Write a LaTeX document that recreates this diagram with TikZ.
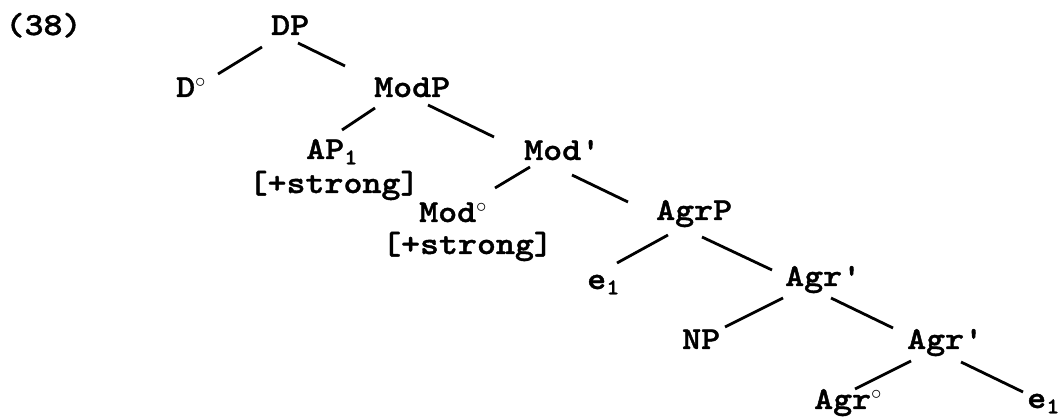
\documentclass[tikz,border=0pt]{standalone}
\usepackage{fontspec}
\newfontfamily\treefont{lmmonolt10-bold.otf}[FakeStretch=1.13,FakeBold=1.2]
\usetikzlibrary{calc}
\tikzset{
  lbl/.style={inner sep=0pt, anchor=base west, font=\treefont\fontsize{32}{38}\selectfont},
  lblc/.style={lbl, anchor=base},
  branch/.style={line width=2.8pt, black}
}
\newcommand{\dg}{\ensuremath{^{\circ}}}
\newcommand{\sbo}{\textsubscript{1}}
\begin{document}
\begin{tikzpicture}[x=1pt,y=-1pt]
\useasboundingbox[fill=white] (0,0) rectangle (1063,419);
\node[lblc] (ex) at (43.5,35) {(38)};
\node[lbl] (DP) at (271,35) {DP};
\node[lbl] (Dd) at (176,97) {D\dg};
\node[lbl] (ModP) at (374,97) {ModP};
\node[lbl] (AP) at (306,159) {AP\sbo};
\node[lblc] (APf) at (334,193) {[+strong]};
\node[lbl] (Modb) at (524,160) {Mod\textquotesingle};
\node[lbl] (Modd) at (419,222) {Mod\dg};
\node[lblc] (Moddf) at (467.5,254) {[+strong]};
\node[lbl] (AgrP) at (656,220) {AgrP};
\node[lbl] (eA) at (587,289) {e\sbo};
\node[lbl] (Agrb1) at (785,286) {Agr\textquotesingle};
\node[lbl] (NP) at (682,349) {NP};
\node[lbl] (Agrb2) at (907,349) {Agr\textquotesingle};
\node[lbl] (Agrd) at (814,409) {Agr\dg};
\node[lbl] (eB) at (1027,408) {e\sbo};

\draw[branch] ($(DP.base west)+(-9,12)$) -- ($(Dd.base west)+(42,-23)$);
\draw[branch] ($(DP.base west)+(27,8)$) -- ($(ModP.base west)+(-29,-31)$);
\draw[branch] ($(ModP.base west)+(1,11)$) -- ($(AP.base west)+(36,-29)$);
\draw[branch] ($(ModP.base west)+(54,8)$) -- ($(Modb.base west)+(-30,-23)$);
\draw[branch] ($(Modb.base west)+(6,7)$) -- ($(Modd.base west)+(76,-34)$);
\draw[branch] ($(Modb.base west)+(48,15)$) -- ($(AgrP.base west)+(-28,-18)$);
\draw[branch] ($(AgrP.base west)+(12,15)$) -- ($(eA.base west)+(30,-26)$);
\draw[branch] ($(AgrP.base west)+(46,17)$) -- ($(Agrb1.base west)+(-13,-16)$);
\draw[branch] ($(Agrb1.base west)+(-2,12)$) -- ($(NP.base west)+(43,-22)$);
\draw[branch] ($(Agrb1.base west)+(46,12)$) -- ($(Agrb2.base west)+(-14,-21)$);
\draw[branch] ($(Agrb2.base west)+(4,12)$) -- ($(Agrd.base west)+(41,-20)$);
\draw[branch] ($(Agrb2.base west)+(54,13)$) -- ($(eB.base west)+(-4,-16)$);
\end{tikzpicture}
\end{document}
